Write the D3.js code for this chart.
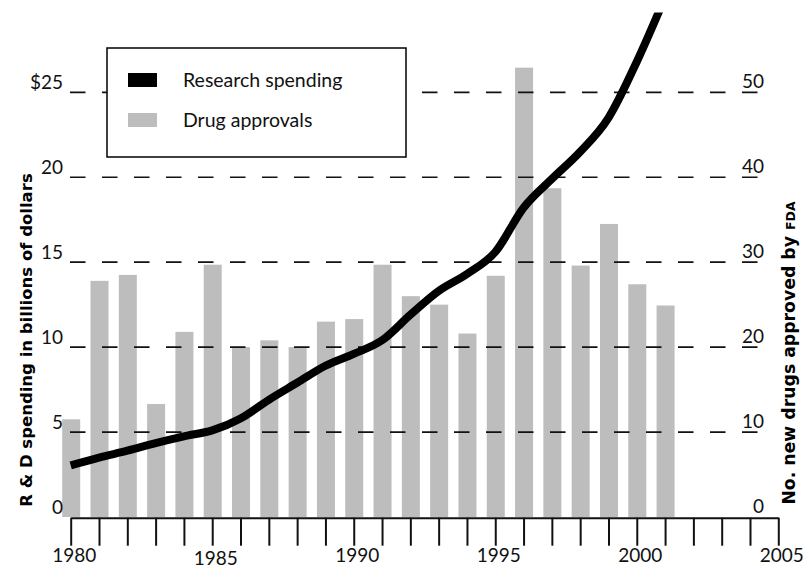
<!DOCTYPE html>
<html>
<head>
<meta charset="utf-8">
<script src="https://cdn.jsdelivr.net/npm/d3@7"></script>
<style>
  html, body { margin: 0; padding: 0; background: #fff; }
  svg { display: block; }
</style>
</head>
<body>
<svg id="chart"></svg>
<script>
// years 1980..2001
const years = d3.range(1980, 2002);
// R&D spending, billions of dollars (left axis)
const spending = [3.04, 3.5, 3.9, 4.35, 4.75, 5.1, 5.8, 6.9, 7.9, 8.9, 9.6, 10.4,
                  11.9, 13.3, 14.3, 15.6, 18.2, 19.9, 21.5, 23.5, 26.8, 30.6];
// new drugs approved by FDA (right axis)
const approvals = [11.5, 27.8, 28.5, 13.3, 21.8, 29.7, 20, 20.8, 20, 23, 23.3, 29.7,
                   26, 25, 21.6, 28.4, 52.9, 38.7, 29.6, 34.5, 27.4, 24.9];
const xTicks = d3.range(1980, 2006);
const leftTicks = [0, 5, 10, 15, 20, 25];
const rightTicks = [0, 10, 20, 30, 40, 50];
const gridValues = [5, 10, 15, 20, 25];
const legendItems = [
  { label: 'Research spending', color: '#000' },
  { label: 'Drug approvals', color: '#bdbdbd' }
];

const W = 805, H = 572;
const baseY = 517;
const fontMain = 'Lato, "Open Sans", sans-serif';
const fontTitle = '"DejaVu Sans", Verdana, sans-serif';

const svg = d3.select('#chart').attr('width', W).attr('height', H);

const x = d3.scaleLinear().domain([1980, 2005]).range([70.7, 778.3]);
const yL = d3.scaleLinear().domain([0, 25]).range([baseY, 92.3]);
const yR = d3.scaleLinear().domain([0, 50]).range([baseY, 92.3]);

const barW = 18;

// bars
svg.append('g')
  .selectAll('rect')
  .data(years)
  .join('rect')
  .attr('x', (d) => x(d) - barW / 2 + 0.5)
  .attr('y', (d, i) => yR(approvals[i]))
  .attr('width', barW)
  .attr('height', (d, i) => yR(0) - yR(approvals[i]))
  .attr('fill', '#bdbdbd');

// dashed grid
const gridStart = 70, gridEnd = 758;
svg.append('g')
  .selectAll('line')
  .data(gridValues)
  .join('line')
  .attr('x1', gridStart)
  .attr('x2', gridEnd)
  .attr('y1', (d) => yL(d))
  .attr('y2', (d) => yL(d))
  .attr('stroke', '#111')
  .attr('stroke-width', 1.7)
  .attr('stroke-dasharray', '15.5,16.5');

// spending line, clipped at top
svg.append('defs').append('clipPath')
  .attr('id', 'clipTop')
  .append('rect')
  .attr('x', 0).attr('y', yL(29.7))
  .attr('width', W).attr('height', H);

const line = d3.line()
  .x((d, i) => x(years[i]))
  .y((d) => yL(d))
  .curve(d3.curveMonotoneX);

svg.append('path')
  .datum(spending)
  .attr('clip-path', 'url(#clipTop)')
  .attr('fill', 'none')
  .attr('stroke', '#000')
  .attr('stroke-width', 8)
  .attr('stroke-linejoin', 'round')
  .attr('d', line);

// legend
const lg = svg.append('g').attr('transform', 'translate(107,48)');
lg.append('rect')
  .attr('width', 299).attr('height', 109)
  .attr('fill', '#fff').attr('stroke', '#000').attr('stroke-width', 1.5);
legendItems.forEach((it, i) => {
  lg.append('rect')
    .attr('x', 21).attr('y', 25 + i * 40)
    .attr('width', 29).attr('height', 14)
    .attr('fill', it.color);
  lg.append('text')
    .attr('x', 76).attr('y', 39 + i * 40)
    .attr('font-family', fontMain)
    .attr('font-size', 19.5)
    .attr('fill', '#111')
    .text(it.label);
});

// x axis
const xAxis = d3.axisBottom(x)
  .tickValues(xTicks)
  .tickSize(28)
  .tickSizeOuter(0)
  .tickFormat((d) => (d % 5 === 0 ? d : ''));

const gx = svg.append('g')
  .attr('transform', `translate(0,${baseY + 0.7})`)
  .call(xAxis);
gx.select('.domain').attr('stroke', '#111').attr('stroke-width', 2);
gx.selectAll('.tick line').attr('stroke', '#111').attr('stroke-width', 2);
gx.selectAll('.tick text')
  .attr('font-family', fontMain)
  .attr('font-size', 19)
  .attr('fill', '#111')
  .attr('x', 3)
  .attr('dy', 0)
  .attr('y', (d) => (d === 1985 ? 47 : 44));

// left tick labels
svg.append('g')
  .selectAll('text')
  .data(leftTicks)
  .join('text')
  .attr('x', 63)
  .attr('y', (d) => yL(d) - 3)
  .attr('text-anchor', 'end')
  .attr('font-family', fontMain)
  .attr('font-size', 19)
  .attr('fill', '#111')
  .text((d) => (d === 25 ? '$25' : d));

// right tick labels
svg.append('g')
  .selectAll('text')
  .data(rightTicks)
  .join('text')
  .attr('x', 764)
  .attr('y', (d) => yR(d) - 4)
  .attr('text-anchor', 'end')
  .attr('font-family', fontMain)
  .attr('font-size', 19)
  .attr('fill', '#111')
  .text((d) => d);

// axis titles
svg.append('text')
  .attr('transform', 'translate(31.5,340) rotate(-90)')
  .attr('text-anchor', 'middle')
  .attr('font-family', fontTitle)
  .attr('font-weight', 'bold')
  .attr('font-size', 16.5)
  .attr('fill', '#000')
  .text('R & D spending in billions of dollars');

const rt = svg.append('text')
  .attr('transform', 'translate(795,353) rotate(-90)')
  .attr('text-anchor', 'middle')
  .attr('font-family', fontTitle)
  .attr('font-weight', 'bold')
  .attr('font-size', 17.3)
  .attr('fill', '#000');
rt.append('tspan').text('No. new drugs approved by ');
rt.append('tspan').attr('font-size', 12.5).text('FDA');
</script>
</body>
</html>
